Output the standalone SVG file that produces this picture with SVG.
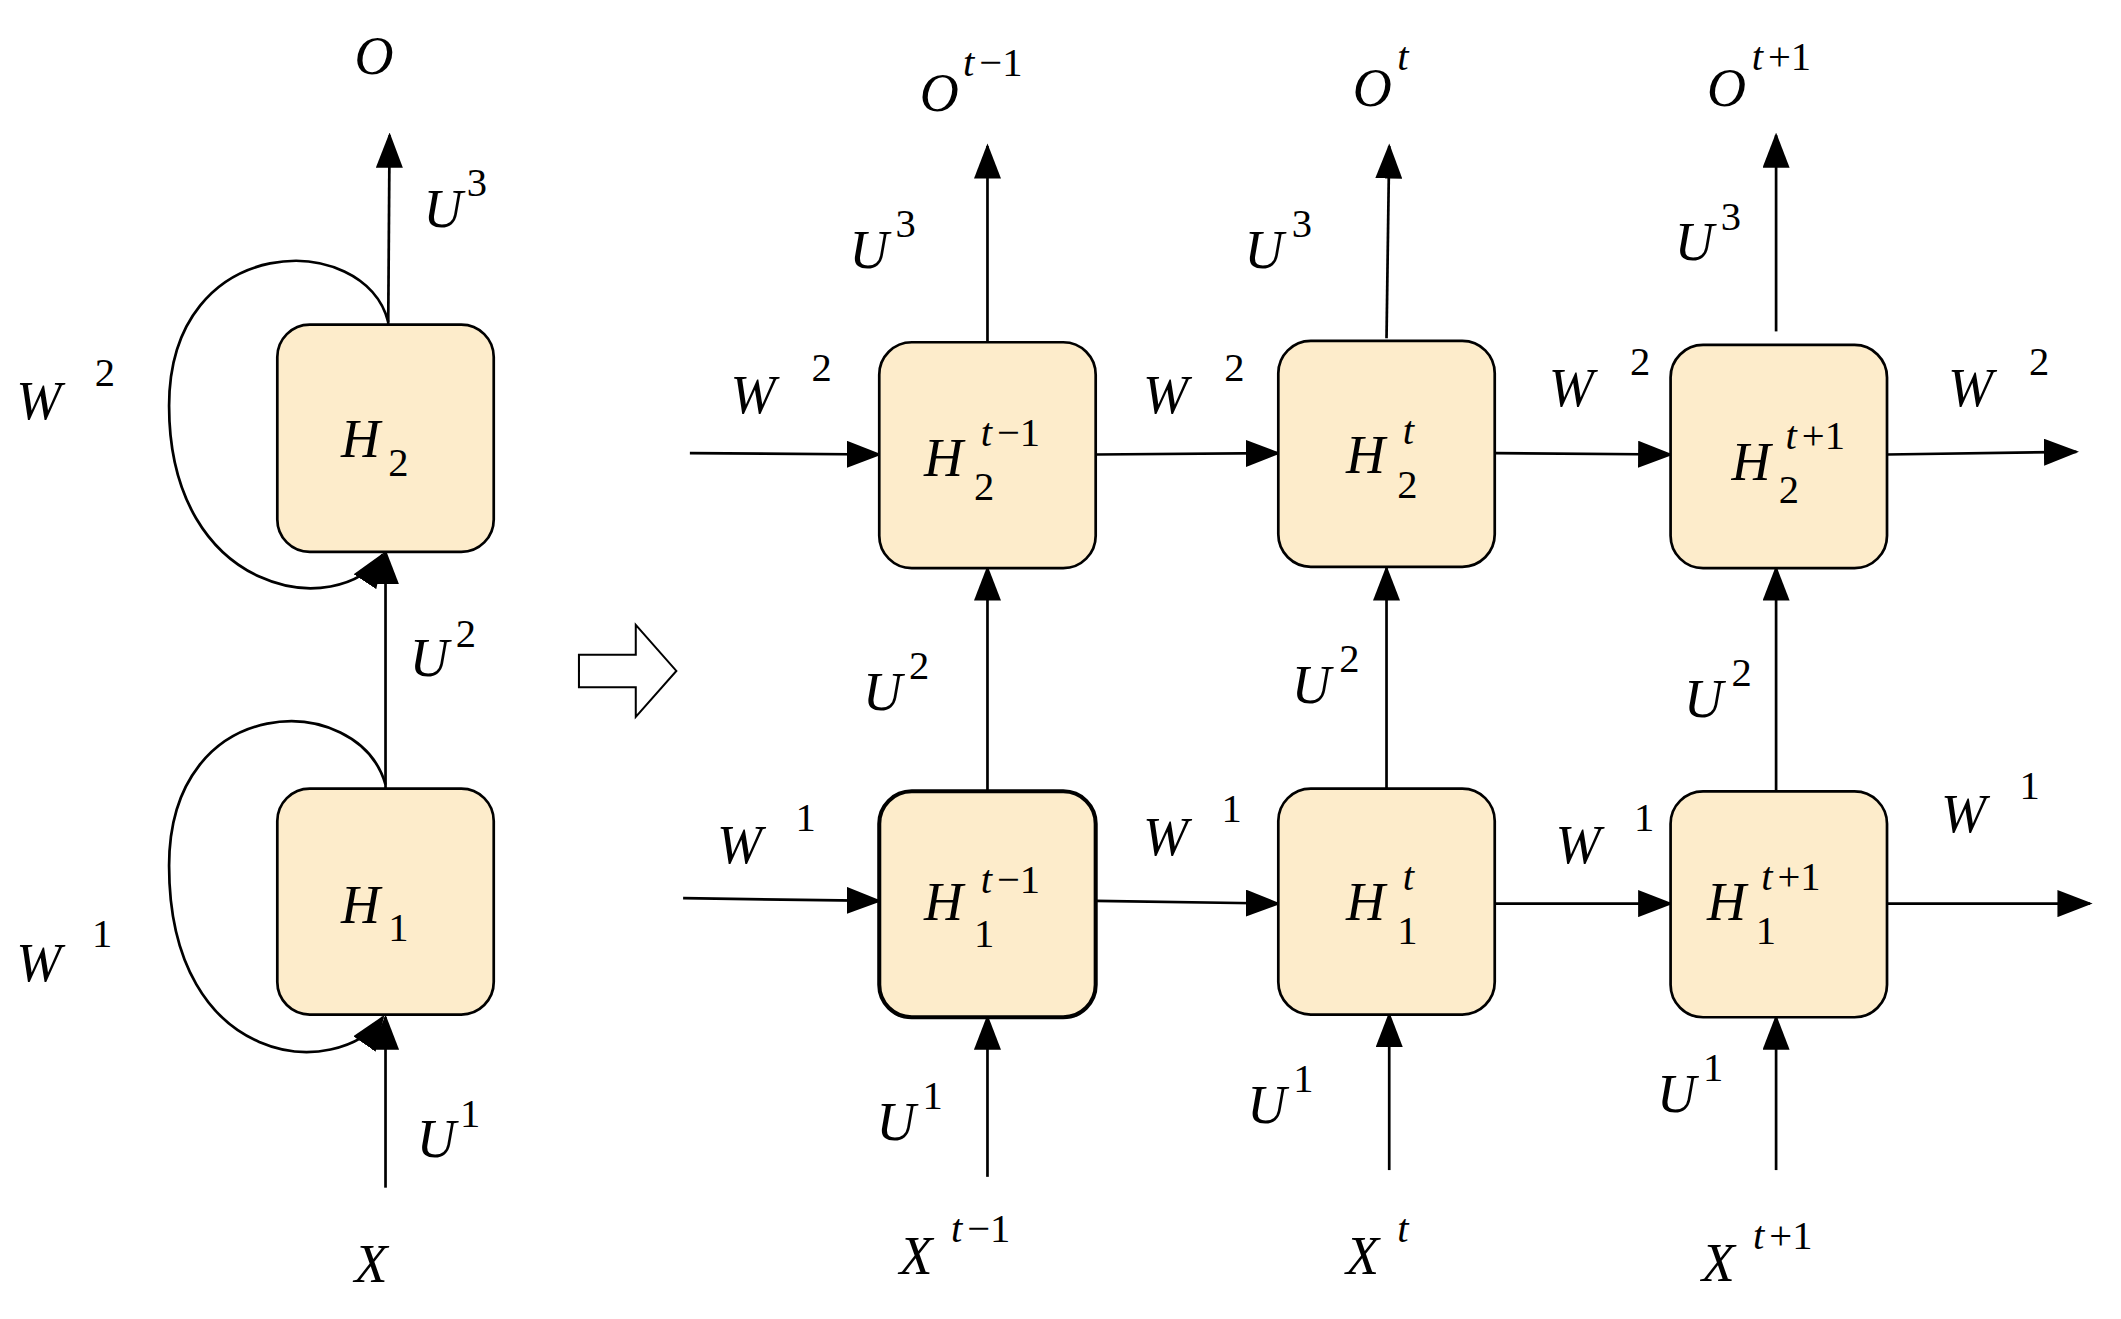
<svg xmlns="http://www.w3.org/2000/svg" width="2121" height="1319" viewBox="0 0 2121 1319">
<style>
.b{fill:#fdeccb;stroke:#000;stroke-width:2}
.l{fill:none;stroke:#000;stroke-width:2}
text{font-family:"Liberation Serif","Times New Roman",serif;font-style:italic;fill:#000;font-size:40px}
.s{font-size:30px;font-style:normal}
.si{font-size:30px}
</style>
<defs><marker id="a" markerUnits="userSpaceOnUse" markerWidth="26" markerHeight="20" refX="24" refY="10" orient="auto"><path d="M0,0 L26,10 L0,20 Z" fill="#000"/></marker></defs>
<rect width="2121" height="1319" fill="#fff"/>
<g transform="scale(1.3527)">
<g id="connectors">
<path class="l" d="M287,240 L288,100" marker-end="url(#a)"/>
<path class="l" d="M287,238 C270,170 125,170 125,300 C125,440 250,460 283,410" marker-end="url(#a)"/>
<path class="l" d="M285,583 L285,408" marker-end="url(#a)"/>
<path class="l" d="M285,580 C265,510 125,510 125,640 C125,790 250,800 283,752" marker-end="url(#a)"/>
<path class="l" d="M285,878 L285,752" marker-end="url(#a)"/>
<path class="l" d="M428,484 L470,484 L470,462 L500,496 L470,530 L470,508 L428,508 Z" style="stroke-width:1.5"/>
<path class="l" d="M730,253 L730,108" marker-end="url(#a)"/>
<path class="l" d="M1025,250 L1027,108" marker-end="url(#a)"/>
<path class="l" d="M1313,245 L1313,100" marker-end="url(#a)"/>
<path class="l" d="M510,335 L650,336" marker-end="url(#a)"/>
<path class="l" d="M810,336 L945,335" marker-end="url(#a)"/>
<path class="l" d="M1105,335 L1235,336" marker-end="url(#a)"/>
<path class="l" d="M1395,336 L1535,334" marker-end="url(#a)"/>
<path class="l" d="M730,585 L730,420" marker-end="url(#a)"/>
<path class="l" d="M1025,583 L1025,420" marker-end="url(#a)"/>
<path class="l" d="M1313,585 L1313,420" marker-end="url(#a)"/>
<path class="l" d="M505,664 L650,666" marker-end="url(#a)"/>
<path class="l" d="M810,666 L945,668" marker-end="url(#a)"/>
<path class="l" d="M1105,668 L1235,668" marker-end="url(#a)"/>
<path class="l" d="M1395,668 L1545,668" marker-end="url(#a)"/>
<path class="l" d="M730,870 L730,752" marker-end="url(#a)"/>
<path class="l" d="M1027,865 L1027,750" marker-end="url(#a)"/>
<path class="l" d="M1313,865 L1313,752" marker-end="url(#a)"/>
</g>
<g id="H2"><rect class="b" x="205" y="240" width="160" height="168" rx="24"/><text x="252" y="338">H</text><text class="s" x="287" y="352">2</text></g>
<g id="H1"><rect class="b" x="205" y="583" width="160" height="167" rx="24"/><text x="252" y="682">H</text><text class="s" x="287" y="696">1</text></g>
<g id="H2a"><rect class="b" x="650" y="253" width="160" height="167" rx="24"/><text x="683" y="352">H</text><text class="s" x="720" y="370">2</text><text class="si" x="725" y="330">t</text><text class="s" x="737" y="330">−1</text></g>
<g id="H2b"><rect class="b" x="945" y="252" width="160" height="167" rx="24"/><text x="995" y="350">H</text><text class="s" x="1033" y="368">2</text><text class="si" x="1037" y="328">t</text></g>
<g id="H2c"><rect class="b" x="1235" y="255" width="160" height="165" rx="24"/><text x="1280" y="355">H</text><text class="s" x="1315" y="372">2</text><text class="si" x="1320" y="332">t</text><text class="s" x="1332" y="332">+1</text></g>
<g id="H1a"><rect class="b" x="650" y="585" width="160" height="167" rx="24" style="stroke-width:3"/><text x="683" y="680">H</text><text class="s" x="720" y="700">1</text><text class="si" x="725" y="660">t</text><text class="s" x="737" y="660">−1</text></g>
<g id="H1b"><rect class="b" x="945" y="583" width="160" height="167" rx="24"/><text x="995" y="680">H</text><text class="s" x="1033" y="698">1</text><text class="si" x="1037" y="658">t</text></g>
<g id="H1c"><rect class="b" x="1235" y="585" width="160" height="167" rx="24"/><text x="1262" y="680">H</text><text class="s" x="1298" y="698">1</text><text class="si" x="1302" y="658">t</text><text class="s" x="1314" y="658">+1</text></g>
<g id="labels">
<text x="262" y="55">O</text>
<text x="313" y="168">U</text><text class="s" x="345" y="145">3</text>
<text x="12" y="310">W</text><text class="s" x="70" y="285">2</text>
<text x="303" y="500">U</text><text class="s" x="337" y="478">2</text>
<text x="12" y="725">W</text><text class="s" x="68" y="700">1</text>
<text x="308" y="855">U</text><text class="s" x="340" y="833">1</text>
<text x="262" y="948">X</text>
<text x="680" y="82">O</text><text class="si" x="712" y="56">t</text><text class="s" x="724" y="56">−1</text>
<text x="1000" y="78">O</text><text class="si" x="1033" y="52">t</text>
<text x="1262" y="78">O</text><text class="si" x="1295" y="52">t</text><text class="s" x="1307" y="52">+1</text>
<text x="628" y="198">U</text><text class="s" x="662" y="175">3</text>
<text x="920" y="198">U</text><text class="s" x="955" y="175">3</text>
<text x="1238" y="192">U</text><text class="s" x="1272" y="170">3</text>
<text x="540" y="305">W</text><text class="s" x="600" y="282">2</text>
<text x="845" y="305">W</text><text class="s" x="905" y="282">2</text>
<text x="1145" y="300">W</text><text class="s" x="1205" y="277">2</text>
<text x="1440" y="300">W</text><text class="s" x="1500" y="277">2</text>
<text x="638" y="525">U</text><text class="s" x="672" y="502">2</text>
<text x="955" y="520">U</text><text class="s" x="990" y="497">2</text>
<text x="1245" y="530">U</text><text class="s" x="1280" y="507">2</text>
<text x="530" y="638">W</text><text class="s" x="588" y="614">1</text>
<text x="845" y="632">W</text><text class="s" x="903" y="608">1</text>
<text x="1150" y="638">W</text><text class="s" x="1208" y="614">1</text>
<text x="1435" y="615">W</text><text class="s" x="1493" y="591">1</text>
<text x="648" y="843">U</text><text class="s" x="682" y="820">1</text>
<text x="922" y="830">U</text><text class="s" x="956" y="807">1</text>
<text x="1225" y="822">U</text><text class="s" x="1259" y="799">1</text>
<text x="665" y="942">X</text><text class="si" x="703" y="918">t</text><text class="s" x="715" y="918">−1</text>
<text x="995" y="942">X</text><text class="si" x="1033" y="918">t</text>
<text x="1258" y="947">X</text><text class="si" x="1296" y="923">t</text><text class="s" x="1308" y="923">+1</text>
</g>
</g>
</svg>
